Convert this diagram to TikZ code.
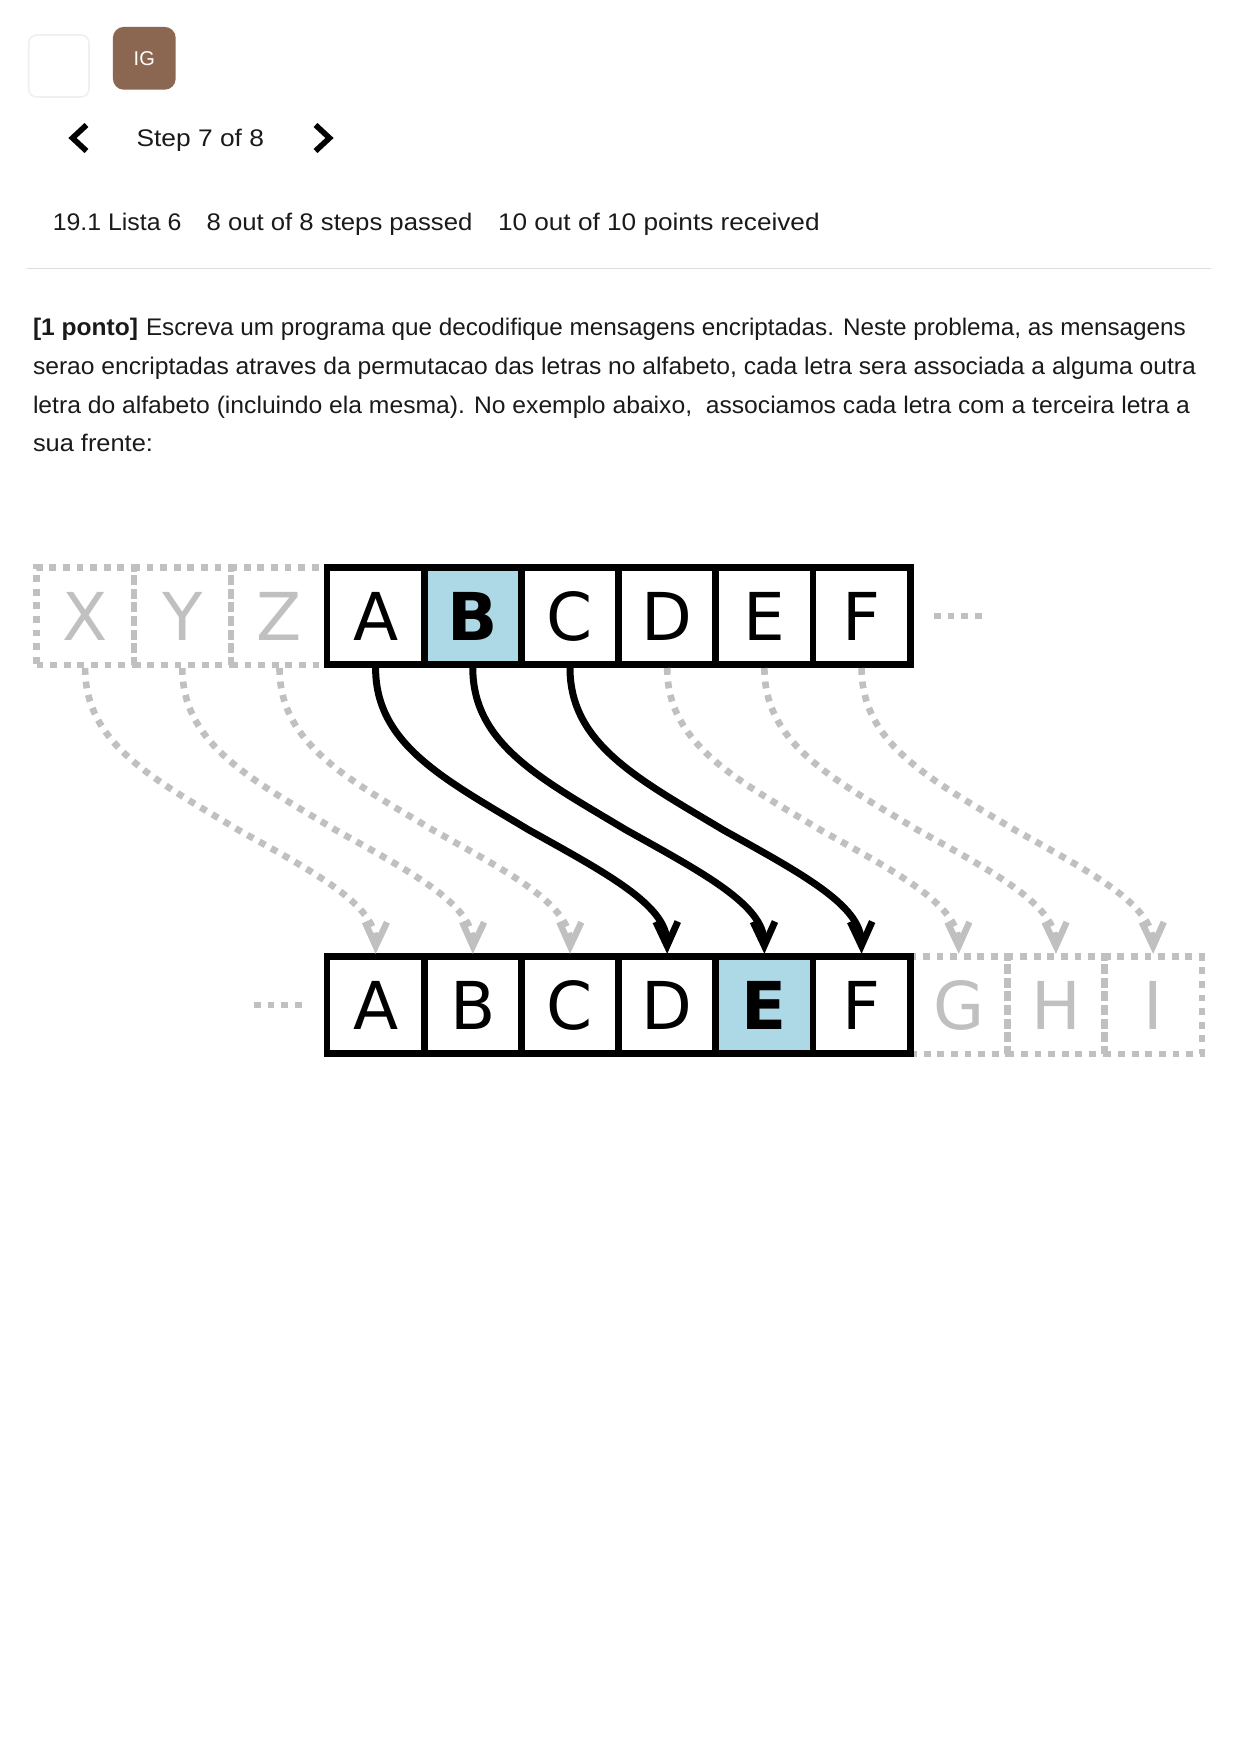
\documentclass[tikz,border=0pt]{standalone}
\usepackage{fontspec}
\setmainfont{Liberation Sans}
\newfontfamily\dejavu{DejaVu Sans}
\usetikzlibrary{arrows.meta,calc}
\definecolor{greyc}{HTML}{C0C0C0}
\definecolor{bluec}{HTML}{ADD8E6}
\definecolor{brownc}{HTML}{8B6650}
\definecolor{inkc}{HTML}{1A1A1A}
\newcommand\fitw[2]{\resizebox{#1pt}{\height}{#2}}
\tikzset{
  x=0.5pt,y=-0.5pt,
  cellbox/.style={rectangle,minimum width=48.6pt,minimum height=48.6pt,inner sep=0pt,outer sep=0pt,
     text height=24pt,text depth=0pt,font=\dejavu\fontsize{33}{33}\selectfont},
  solidcell/.style={cellbox,draw=black,line width=3.4pt,text=black},
  bluecell/.style={solidcell,fill=bluec,font=\dejavu\bfseries\fontsize{33}{33}\selectfont},
  ghostcell/.style={cellbox,draw=greyc,line width=3.2pt,text=greyc,dash pattern=on 3.4pt off 3.4pt},
  solidlink/.style={draw=black,line width=3.5pt,shorten <=1.6pt,shorten >=1.4pt,
     -{Straight Barb[length=12pt,width=11pt,line width=3.4pt]}},
  ghostlink/.style={draw=greyc,line width=3.3pt,dash pattern=on 3.4pt off 3.4pt,shorten <=1.6pt,shorten >=1.4pt,
     -{Straight Barb[length=12pt,width=11pt,line width=3.2pt]}},
  ghostdots/.style={draw=greyc,line width=3.2pt,dash pattern=on 3.4pt off 3.4pt},
  uitext/.style={anchor=base west,inner sep=0pt,outer sep=0pt,text=inkc,font=\fontsize{12}{12}\selectfont},
  chevron/.style={draw=black,line width=2.8pt,line cap=butt,line join=miter},
}
\begin{document}
\begin{tikzpicture}
\useasboundingbox (0,0) rectangle (1238,1752);
\fill[white] (0,0) rectangle (1238,1752);

% header
\draw[draw=black!6,line width=0.8pt,fill=white,rounded corners=4pt] (28.7,35) rectangle (89,97);
\node[fill=brownc,rounded corners=5.5pt,minimum width=31.4pt,minimum height=31.4pt,inner sep=0pt,outer sep=0pt,text=white,font=\fontsize{10}{10}\selectfont] (avatar) at (144.3,58.3) {IG};
\draw[chevron] (86.5,125) -- (72.5,138) -- (86.5,151);
\draw[chevron] (315.5,125) -- (329.5,138) -- (315.5,151);
\node[uitext] (stepno) at (136.6,146.7) {\fitw{63.7}{Step 7 of 8}};
\node[uitext] (lista) at (52.8,230.7) {\fitw{64.3}{19.1 Lista 6}};
\node[uitext] (steps) at (206.6,230.7) {\fitw{132.9}{8 out of 8 steps passed}};
\node[uitext] (points) at (498,230.7) {\fitw{160.8}{10 out of 10 points received}};
\draw[draw=black!13,line width=0.7pt] (27,268.5) -- (1211,268.5);

% statement
\node[uitext] (bold) at (33,335) {\fitw{52.5}{\bfseries [1 ponto]}};
\node[uitext] (l1) at (146,335) {\fitw{520}{Escreva um programa que decodifique mensagens encriptadas. Neste problema, as mensagens}};
\node[uitext] (l2) at (33,374) {\fitw{581.5}{serao encriptadas atraves da permutacao das letras no alfabeto, cada letra sera associada a alguma outra}};
\node[uitext] (l3) at (33,413) {\fitw{578.5}{letra do alfabeto (incluindo ela mesma). No exemplo abaixo,\ \ associamos cada letra com a terceira letra a}};
\node[uitext] (l4) at (33,451.5) {\fitw{60}{sua frente:}};

% ghost cells
\node[ghostcell] (tX) at (85.1,616.2) {X};
\node[ghostcell] (tY) at (182.3,616.2) {Y};
\node[ghostcell] (tZ) at (279.5,616.2) {Z};
\node[ghostcell] (bG) at (958.8,1005.2) {G};
\node[ghostcell] (bH) at (1056,1005.2) {H};
\node[ghostcell] (bI) at (1153.2,1005.2) {I};

% solid cells
\foreach \l/\cx in {A/375.6,C/570,D/667.2,E/764.4,F/861.6}
  \node[solidcell,fill=white] (t\l) at (\cx,616.2) {\l};
\node[bluecell] (tB) at (472.8,616.2) {B};
\foreach \l/\cx in {A/375.6,B/472.8,C/570,D/667.2,F/861.6}
  \node[solidcell,fill=white] (b\l) at (\cx,1005.2) {\l};
\node[bluecell] (bE) at (764.4,1005.2) {E};

% ellipses
\coordinate (dotsRa) at (934,616);
\coordinate (dotsRb) at (983,616);
\coordinate (dotsLa) at (254,1005);
\coordinate (dotsLb) at (303,1005);
\draw[ghostdots] (dotsRa) -- (dotsRb);
\draw[ghostdots] (dotsLa) -- (dotsLb);

% connectors
\foreach \s/\e in {X/A,Y/B,Z/C,D/G,E/H,F/I}
  \draw[ghostlink] (t\s.south)
    .. controls ($(t\s.south)+(0,80)$) and ($(t\s.south)+(70,115)$) .. ($(t\s.south)+(153,165)$)
    .. controls ($(t\s.south)+(230,208)$) and ($(t\s.south)+(291,240)$) .. (b\e.north);
\foreach \s/\e in {A/D,B/E,C/F}
  \draw[solidlink] (t\s.south)
    .. controls ($(t\s.south)+(0,80)$) and ($(t\s.south)+(70,115)$) .. ($(t\s.south)+(153,165)$)
    .. controls ($(t\s.south)+(230,208)$) and ($(t\s.south)+(291,240)$) .. (b\e.north);
\end{tikzpicture}
\end{document}
